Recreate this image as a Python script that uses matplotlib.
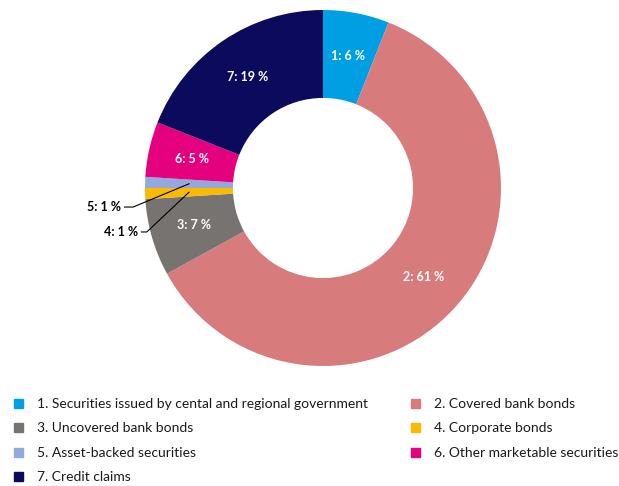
import numpy as np
import matplotlib.pyplot as plt

# share of collateral by category (%)
labels = [
    "1. Securities issued by cental and regional government",
    "2. Covered bank bonds",
    "3. Uncovered bank bonds",
    "4. Corporate bonds",
    "5. Asset-backed securities",
    "6. Other marketable securities",
    "7. Credit claims",
]
values = [6, 61, 7, 1, 1, 5, 19]
colors = ["#009FE3", "#D77B7C", "#777370", "#FBBA00", "#91A9DD", "#E5007E", "#0B0A5C"]

plt.rcParams['font.family'] = ['Lato', 'DejaVu Sans']

fig = plt.figure(figsize=(6.19, 4.86), dpi=100)
ax = fig.add_axes([145 / 619, 1 - 366 / 486, 356 / 619, 356 / 486])

wedges, _ = ax.pie(values, colors=colors, startangle=90, counterclock=False,
                   radius=1.0, wedgeprops=dict(width=0.494, linewidth=0))
ax.set_xlim(-1, 1)
ax.set_ylim(-1, 1)
ax.set_aspect('equal')
ax.axis('off')

r_mid = 0.753
cum = np.cumsum([0] + values)
total = float(sum(values))
for i, v in enumerate(values):
    frac = (cum[i] + v / 2) / total
    ang = 2 * np.pi * frac
    x, y = r_mid * np.sin(ang), r_mid * np.cos(ang)
    txt = "{}: {} %".format(i + 1, v)
    if v >= 3:
        ax.text(x, y, txt, color="white", fontsize=9, fontweight="bold",
                ha="center", va="center")
    else:
        # small slices get an outside label with a leader line
        ty = {3: -0.247, 4: -0.107}[i]
        tx = {3: -1.04, 4: -1.135}[i]
        ex = {3: -0.99, 4: -1.067}[i]
        ax.plot([tx + 0.02, ex, x], [ty, ty, y], color="black", lw=0.8, clip_on=False)
        ax.text(tx, ty, txt, color="black", fontsize=9, fontweight="bold",
                ha="right", va="center")

# legend, two columns
for i, (lab, col) in enumerate(zip(labels, colors)):
    c, r = i % 2, i // 2
    xm = (18 if c == 0 else 415) / 619
    yy = 1 - (404 + r * 24.3) / 486
    fig.patches.append(plt.Rectangle((xm - 4 / 619, yy - 4 / 486), 9 / 619, 9 / 486,
                                     transform=fig.transFigure, color=col))
    fig.text(xm + 19 / 619, yy, lab, fontsize=10, color="#1a1a1a", va="center", ha="left")

fig.savefig("out.png", dpi=100)
